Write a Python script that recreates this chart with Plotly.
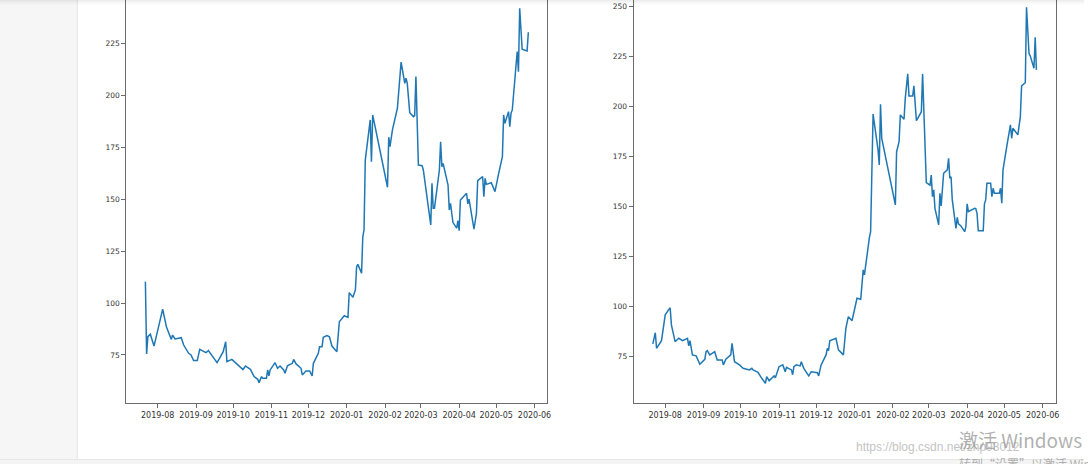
import pandas as pd
import plotly.graph_objects as go

# ---------------- data ----------------
left_dates = [
    "2019-07-22", "2019-07-23", "2019-07-24", "2019-07-26", "2019-07-29", "2019-07-31",
    "2019-08-05", "2019-08-08", "2019-08-12", "2019-08-13", "2019-08-15", "2019-08-20",
    "2019-08-22", "2019-08-26", "2019-08-28", "2019-08-30", "2019-09-02", "2019-09-04",
    "2019-09-06", "2019-09-09", "2019-09-11", "2019-09-18", "2019-09-20", "2019-09-23",
    "2019-09-25", "2019-09-26", "2019-09-30", "2019-10-09", "2019-10-11", "2019-10-15",
    "2019-10-18", "2019-10-21", "2019-10-22", "2019-10-24", "2019-10-25", "2019-10-28",
    "2019-10-29", "2019-10-30", "2019-10-31", "2019-11-04", "2019-11-06", "2019-11-08",
    "2019-11-11", "2019-11-12", "2019-11-14", "2019-11-18", "2019-11-19", "2019-11-21",
    "2019-11-25", "2019-11-26", "2019-11-29", "2019-12-02", "2019-12-04", "2019-12-05",
    "2019-12-09", "2019-12-10", "2019-12-12", "2019-12-13", "2019-12-16", "2019-12-18",
    "2019-12-20", "2019-12-24", "2019-12-26", "2019-12-30", "2020-01-02", "2020-01-03",
    "2020-01-06", "2020-01-08", "2020-01-09", "2020-01-10", "2020-01-13", "2020-01-14",
    "2020-01-15", "2020-01-16", "2020-01-20", "2020-01-21", "2020-01-22", "2020-02-03",
    "2020-02-04", "2020-02-05", "2020-02-07", "2020-02-10", "2020-02-11", "2020-02-14",
    "2020-02-17", "2020-02-18", "2020-02-19", "2020-02-21", "2020-02-24", "2020-02-25",
    "2020-02-26", "2020-02-28", "2020-03-02", "2020-03-03", "2020-03-05", "2020-03-06",
    "2020-03-09", "2020-03-10", "2020-03-11", "2020-03-12", "2020-03-16", "2020-03-17",
    "2020-03-18", "2020-03-19", "2020-03-23", "2020-03-24", "2020-03-25", "2020-03-26",
    "2020-03-27", "2020-03-30", "2020-03-31", "2020-04-01", "2020-04-02", "2020-04-07",
    "2020-04-08", "2020-04-09", "2020-04-13", "2020-04-15", "2020-04-16", "2020-04-20",
    "2020-04-21", "2020-04-22", "2020-04-23", "2020-04-27", "2020-04-30", "2020-05-03",
    "2020-05-06", "2020-05-07", "2020-05-08", "2020-05-11", "2020-05-12", "2020-05-13",
    "2020-05-14", "2020-05-18", "2020-05-19", "2020-05-20", "2020-05-21", "2020-05-22",
    "2020-05-26", "2020-05-27",
]
left_values = [
    110.3, 75.5, 83.8, 85.0, 79.3, 84.6,
    97.1, 88.6, 82.5, 84.6, 82.7, 83.3,
    79.8, 75.8, 75.0, 72.3, 72.3, 77.7,
    77.0, 76.1, 77.1, 71.3, 73.4, 76.6,
    81.4, 71.8, 72.9, 68.0, 69.7, 68.1,
    64.6, 63.3, 61.7, 64.6, 63.8, 63.8,
    67.8, 65.0, 67.8, 71.3, 68.6, 69.7,
    67.8, 66.2, 69.8, 71.0, 72.9, 70.7,
    68.6, 65.4, 67.3, 67.3, 64.9, 71.0,
    75.8, 79.0, 79.0, 83.5, 84.3, 83.8,
    79.3, 76.6, 91.0, 93.9, 93.1, 105.0,
    102.8, 106.3, 117.5, 118.6, 114.3, 131.9,
    135.2, 168.8, 188.1, 168.0, 190.5, 155.7,
    179.8, 175.3, 183.3, 192.4, 193.7, 215.9,
    205.7, 208.2, 205.7, 191.6, 189.7, 190.2,
    209.0, 166.4, 166.1, 164.0, 154.4, 149.6,
    137.6, 157.6, 145.6, 145.6, 164.0, 177.6,
    165.6, 167.2, 156.8, 144.8, 148.0, 143.2,
    138.7, 136.0, 139.6, 134.8, 149.6, 152.8,
    147.7, 150.0, 135.5, 143.2, 158.9, 160.8,
    151.2, 160.0, 157.1, 157.9, 153.6, 162.4,
    170.4, 190.5, 186.5, 192.1, 184.9, 191.3,
    192.9, 221.0, 211.3, 241.8, 233.0, 222.1,
    221.3, 230.3,
]

right_dates = [
    "2019-07-22", "2019-07-24", "2019-07-25", "2019-07-29", "2019-08-01", "2019-08-05",
    "2019-08-06", "2019-08-09", "2019-08-12", "2019-08-15", "2019-08-19", "2019-08-20",
    "2019-08-21", "2019-08-23", "2019-08-26", "2019-08-29", "2019-09-02", "2019-09-03",
    "2019-09-04", "2019-09-06", "2019-09-10", "2019-09-12", "2019-09-16", "2019-09-17",
    "2019-09-19", "2019-09-23", "2019-09-24", "2019-09-26", "2019-09-30", "2019-10-03",
    "2019-10-08", "2019-10-10", "2019-10-11", "2019-10-15", "2019-10-18", "2019-10-21",
    "2019-10-22", "2019-10-24", "2019-10-28", "2019-10-29", "2019-11-01", "2019-11-04",
    "2019-11-06", "2019-11-07", "2019-11-11", "2019-11-12", "2019-11-13", "2019-11-15",
    "2019-11-18", "2019-11-19", "2019-11-21", "2019-11-25", "2019-11-27", "2019-12-02",
    "2019-12-03", "2019-12-05", "2019-12-09", "2019-12-10", "2019-12-11", "2019-12-12",
    "2019-12-17", "2019-12-19", "2019-12-23", "2019-12-25", "2019-12-27", "2019-12-30",
    "2020-01-03", "2020-01-06", "2020-01-08", "2020-01-09", "2020-01-13", "2020-01-14",
    "2020-01-16", "2020-01-20", "2020-01-21", "2020-01-22", "2020-01-23", "2020-02-03",
    "2020-02-04", "2020-02-06", "2020-02-07", "2020-02-10", "2020-02-11", "2020-02-13",
    "2020-02-14", "2020-02-17", "2020-02-18", "2020-02-20", "2020-02-21", "2020-02-24",
    "2020-02-25", "2020-02-28", "2020-03-02", "2020-03-03", "2020-03-04", "2020-03-05",
    "2020-03-06", "2020-03-09", "2020-03-10", "2020-03-11", "2020-03-13", "2020-03-16",
    "2020-03-17", "2020-03-18", "2020-03-19", "2020-03-20", "2020-03-23", "2020-03-24",
    "2020-03-25", "2020-03-27", "2020-03-30", "2020-03-31", "2020-04-01", "2020-04-02",
    "2020-04-07", "2020-04-08", "2020-04-09", "2020-04-10", "2020-04-14", "2020-04-15",
    "2020-04-16", "2020-04-17", "2020-04-20", "2020-04-21", "2020-04-22", "2020-04-23",
    "2020-04-27", "2020-04-28", "2020-04-29", "2020-04-30", "2020-05-03", "2020-05-06",
    "2020-05-07", "2020-05-08", "2020-05-12", "2020-05-14", "2020-05-15", "2020-05-18",
    "2020-05-19", "2020-05-21", "2020-05-22", "2020-05-25", "2020-05-26", "2020-05-27",
]
right_values = [
    81.4, 87.0, 79.2, 83.0, 95.9, 99.5,
    90.9, 82.5, 84.2, 83.0, 84.2, 80.4,
    83.0, 75.9, 75.4, 71.2, 73.7, 77.5,
    78.0, 75.9, 77.5, 73.4, 73.4, 70.9,
    73.7, 75.9, 81.7, 72.5, 70.9, 69.2,
    68.4, 69.2, 68.4, 67.2, 64.2, 61.7,
    65.0, 63.0, 65.4, 64.5, 70.0, 70.9,
    67.5, 69.7, 68.4, 66.0, 70.0, 70.9,
    70.4, 72.5, 69.2, 65.4, 67.5, 67.0,
    65.4, 70.9, 75.9, 79.2, 78.0, 83.0,
    84.2, 78.4, 75.9, 89.2, 95.0, 93.0,
    104.2, 103.7, 118.4, 115.9, 134.5, 137.5,
    196.3, 178.4, 170.9, 201.2, 184.2, 150.9,
    177.5, 182.5, 195.9, 193.7, 204.2, 216.4,
    205.4, 205.4, 210.4, 193.0, 194.0, 197.5,
    216.4, 162.0, 160.8, 165.8, 155.0, 158.4,
    149.2, 140.9, 156.7, 150.4, 166.7, 168.4,
    174.2, 164.2, 165.0, 153.4, 139.2, 144.7,
    141.4, 140.4, 137.5, 140.0, 151.4, 147.5,
    149.2, 149.0, 146.7, 138.0, 138.0, 151.4,
    153.4, 161.7, 161.7, 155.0, 159.2, 156.7,
    156.7, 159.2, 151.7, 168.4, 180.0, 190.9,
    184.2, 189.2, 185.9, 195.0, 210.4, 212.0,
    249.7, 226.7, 225.4, 219.2, 234.7, 218.4,
]

left_yticks = [75, 100, 125, 150, 175, 200, 225]
right_yticks = [75, 100, 125, 150, 175, 200, 225, 250]

# ---------------- figure ----------------
W, H = 1088, 464
LINE_COLOR = "#1f77b4"
AX_COLOR = "#6b6b6b"
TXT_COLOR = "#333333"
FONT = "DejaVu Sans"

def x_range(dates):
    d = pd.to_datetime(dates)
    span = d.max() - d.min()
    return [d.min() - span * 0.05, d.max() + span * 0.05]

fig = go.Figure()
fig.add_trace(go.Scatter(x=left_dates, y=left_values, mode="lines",
                         line=dict(color=LINE_COLOR, width=1.5),
                         xaxis="x", yaxis="y", showlegend=False, hoverinfo="x+y"))
fig.add_trace(go.Scatter(x=right_dates, y=right_values, mode="lines",
                         line=dict(color=LINE_COLOR, width=1.5),
                         xaxis="x2", yaxis="y2", showlegend=False, hoverinfo="x+y"))

y_dom = [1 - 403 / H, 1.0]
xcommon = dict(type="date", dtick="M1", tickformat="%Y-%m", ticks="outside",
               ticklen=4, tickwidth=1, tickcolor=AX_COLOR, showgrid=False,
               zeroline=False, showline=True, linecolor=AX_COLOR, linewidth=1,
               mirror=False, tickfont=dict(family=FONT, size=8, color=TXT_COLOR),
               tick0="2019-08-01")
ycommon = dict(ticks="outside", ticklen=4, tickwidth=1, tickcolor=AX_COLOR,
               showgrid=False, zeroline=False, showline=True, linecolor=AX_COLOR,
               linewidth=1, mirror=True,
               tickfont=dict(family=FONT, size=7.5, color=TXT_COLOR))

fig.update_layout(
    width=W, height=H,
    margin=dict(l=0, r=0, t=0, b=0),
    paper_bgcolor="white", plot_bgcolor="white",
    xaxis=dict(domain=[126.7 / W, 549.5 / W], range=x_range(left_dates),
               anchor="y", **xcommon),
    yaxis=dict(domain=y_dom, range=[51.9, 245.8], tickvals=left_yticks,
               anchor="x", **ycommon),
    xaxis2=dict(domain=[636 / W, 1059.5 / W], range=x_range(right_dates),
                anchor="y2", **xcommon),
    yaxis2=dict(domain=y_dom, range=[51.85, 253.35], tickvals=right_yticks,
                anchor="x2", **ycommon),
)

# notebook page decoration
shapes = [
    dict(type="rect", xref="paper", yref="paper", x0=0, x1=77 / W, y0=0, y1=1,
         fillcolor="#f6f6f6", line=dict(width=0), layer="below"),
    dict(type="line", xref="paper", yref="paper", x0=77.5 / W, x1=77.5 / W, y0=0, y1=1,
         line=dict(color="#e2e2e2", width=1), layer="below"),
    dict(type="rect", xref="paper", yref="paper", x0=0, x1=1, y0=0, y1=4 / H,
         fillcolor="#f4f4f4", line=dict(width=0), layer="above"),
    dict(type="line", xref="paper", yref="paper", x0=0, x1=1, y0=4.5 / H, y1=4.5 / H,
         line=dict(color="#e6e6e6", width=1), layer="above"),
]
for i, op in enumerate([0.07, 0.05, 0.035, 0.02, 0.01]):
    shapes.append(dict(type="rect", xref="paper", yref="paper", x0=0, x1=1,
                       y0=1 - (i + 1) / H, y1=1 - i / H, fillcolor="black",
                       opacity=op, line=dict(width=0), layer="above"))
fig.update_layout(shapes=shapes)

fig.add_annotation(text="https://blog.csdn.net/zhp93012", xref="paper", yref="paper",
                   x=857 / W, y=1 - 447 / H, xanchor="left", yanchor="middle",
                   showarrow=False,
                   font=dict(family="Liberation Sans", size=12, color="#c4c4c4"))
fig.add_annotation(text="激活 Windows", xref="paper", yref="paper",
                   x=961 / W, y=1 - 439 / H, xanchor="left", yanchor="middle",
                   showarrow=False,
                   font=dict(family="Noto Sans CJK SC", size=19, color="rgba(150,150,150,0.75)"))
fig.add_annotation(text="转到“设置”以激活 Windows。", xref="paper", yref="paper",
                   x=961 / W, y=1 - 463 / H, xanchor="left", yanchor="middle",
                   showarrow=False,
                   font=dict(family="Noto Sans CJK SC", size=12, color="rgba(150,150,150,0.75)"))

fig.write_html("out.html")
